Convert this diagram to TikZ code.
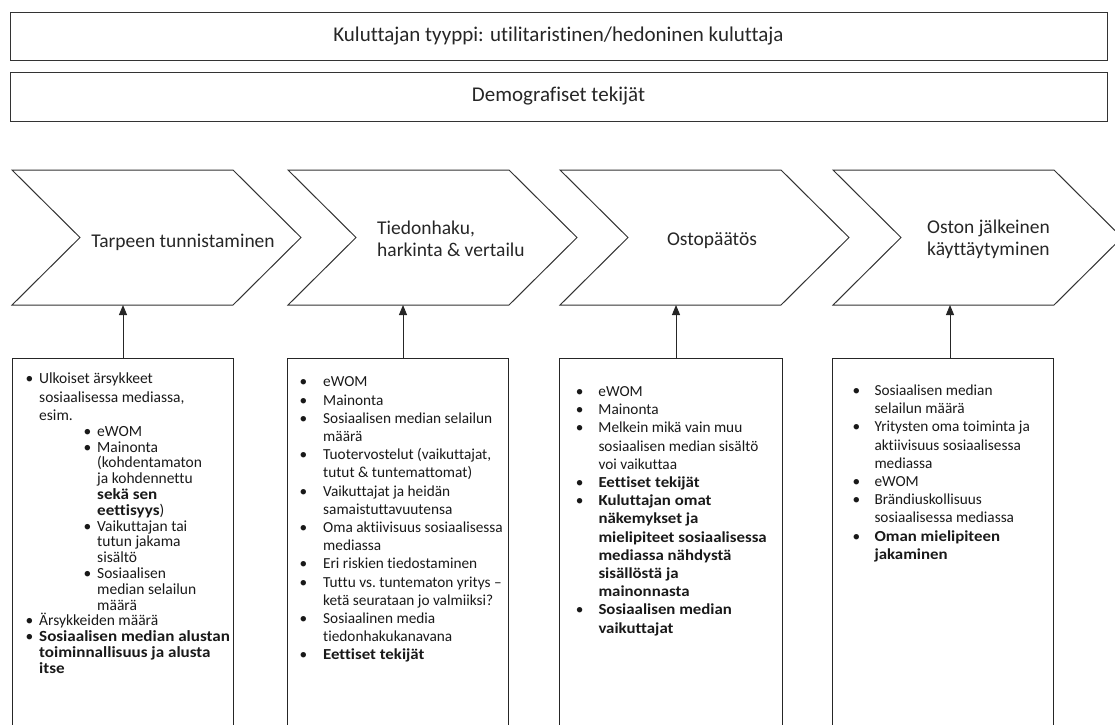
\documentclass[tikz,border=0pt]{standalone}
\usepackage{fontspec}
\setmainfont{Carlito}[Ligatures=NoCommon, BoldFeatures={FakeStretch=1.1}]
\usetikzlibrary{arrows.meta,positioning}
\newlength\bulgap
\newcommand{\itm}{\makebox[\bulgap][l]{\textbullet}}
\newcommand{\cnt}{\hspace*{\bulgap}}
\tikzset{%
  bar/.style={draw=black!80, line width=1pt, minimum width=1097, minimum height=48, inner sep=0pt, text=black!85, font=\fontsize{21}{25}\selectfont},
  chev/.style={draw=black!80, line width=1pt, line join=miter},
  steplabel/.style={inner sep=0pt, text=black!85, font=\fontsize{19.5}{22}\selectfont},
  infobox/.style={draw=black!85, line width=1pt, anchor=north west, minimum width=221, minimum height=380, inner sep=0pt},
  itemtext/.style={anchor=north west, align=left, inner sep=0pt, text=black!90, font=\fontsize{15.3}{18.2}\selectfont},
  link/.style={-{Triangle[length=10pt,width=8pt]}, line width=1pt, black!85}
}

\begin{document}
\begin{tikzpicture}[x=1pt, y=-1pt]
\useasboundingbox (0,0) rectangle (1115,724);

\node[bar] (tyyppi) at (558.5,36) {Kuluttajan tyyppi: utilitaristinen/hedoninen kuluttaja};
\node[bar, minimum height=49] (demo) at (558.5,96.5) {Demografiset tekijät};

\foreach \x/\n in {12/1,288/2,560/3,833/4}{
  \draw[chev] (\x,170) -- ++(221,0) -- ++(68,67.5) -- ++(-68,67.5) -- ++(-221,0) -- ++(68,-67.5) -- cycle;
  \coordinate (c\n) at (\x,305);
}

\node[steplabel] (v1) at (183,242) {Tarpeen tunnistaminen};
\node[steplabel, align=left, anchor=west] (v2) at (377,239) {Tiedonhaku,\\harkinta \& vertailu};
\node[steplabel] (v3) at (712,241) {Ostopäätös};
\node[steplabel, align=left, anchor=west] (v4) at (927,239) {Oston jälkeinen\\käyttäytyminen};

\node[infobox] (ib1) at (12,358) {};
\node[infobox] (ib2) at (287,358) {};
\node[infobox, minimum width=223] (ib3) at (559,358) {};
\node[infobox] (ib4) at (832,358) {};

\foreach \n/\dx in {1/0,2/5,3/5,4/7}
  \draw[link] ([xshift=\dx]ib\n.north) -- ([xshift=\dx]ib\n.north |- c\n);

\node[itemtext, font=\fontsize{15.5}{18.3}\selectfont] (l1) at (25.3,370.9) {\global\bulgap=13.7pt%
\strut\itm Ulkoiset ärsykkeet\\
\cnt sosiaalisessa mediassa,\\
\cnt esim.\\[-2.5pt]
\hspace*{58pt}\itm eWOM\\[-2.5pt]
\hspace*{58pt}\itm Mainonta\\[-2.5pt]
\hspace*{58pt}\cnt (kohdentamaton\\[-2.5pt]
\hspace*{58pt}\cnt ja kohdennettu\\[-2.5pt]
\hspace*{58pt}\cnt \textbf{sekä sen}\\[-2.5pt]
\hspace*{58pt}\cnt \textbf{eettisyys})\\[-2.5pt]
\hspace*{58pt}\itm Vaikuttajan tai\\[-2.5pt]
\hspace*{58pt}\cnt tutun jakama\\[-2.5pt]
\hspace*{58pt}\cnt sisältö\\[-2.5pt]
\hspace*{58pt}\itm Sosiaalisen\\[-2.5pt]
\hspace*{58pt}\cnt median selailun\\[-2.5pt]
\hspace*{58pt}\cnt määrä\\[-2.5pt]
\itm Ärsykkeiden määrä\\[-2.5pt]
\itm \textbf{Sosiaalisen median alustan}\\[-2.5pt]
\cnt \textbf{toiminnallisuus ja alusta}\\[-2.5pt]
\cnt \textbf{itse}};

\node[itemtext] (l2) at (299.3,373.9) {\global\bulgap=23.7pt%
\strut\itm eWOM\\
\itm Mainonta\\
\itm Sosiaalisen median selailun\\
\cnt määrä\\
\itm Tuotervostelut (vaikuttajat,\\
\cnt tutut \& tuntemattomat)\\
\itm Vaikuttajat ja heidän\\
\cnt samaistuttavuutensa\\
\itm Oma aktiivisuus sosiaalisessa\\
\cnt mediassa\\
\itm Eri riskien tiedostaminen\\
\itm Tuttu vs.\ tuntematon yritys –\\
\cnt ketä seurataan jo valmiiksi?\\
\itm Sosiaalinen media\\
\cnt tiedonhakukanavana\\
\itm \textbf{Eettiset tekijät}};

\node[itemtext] (l3) at (575.6,383.6) {\global\bulgap=22.7pt%
\strut\itm eWOM\\
\itm Mainonta\\
\itm Melkein mikä vain muu\\
\cnt sosiaalisen median sisältö\\
\cnt voi vaikuttaa\\
\itm \textbf{Eettiset tekijät}\\
\itm \textbf{Kuluttajan omat}\\
\cnt \textbf{näkemykset ja}\\
\cnt \textbf{mielipiteet sosiaalisessa}\\
\cnt \textbf{mediassa nähdystä}\\
\cnt \textbf{sisällöstä ja}\\
\cnt \textbf{mainonnasta}\\
\itm \textbf{Sosiaalisen median}\\
\cnt \textbf{vaikuttajat}};

\node[itemtext] (l4) at (852.3,382.6) {\global\bulgap=22pt%
\strut\itm Sosiaalisen median\\
\cnt selailun määrä\\
\itm Yritysten oma toiminta ja\\
\cnt aktiivisuus sosiaalisessa\\
\cnt mediassa\\
\itm eWOM\\
\itm Brändiuskollisuus\\
\cnt sosiaalisessa mediassa\\
\itm \textbf{Oman mielipiteen}\\
\cnt \textbf{jakaminen}};
\end{tikzpicture}
\end{document}
